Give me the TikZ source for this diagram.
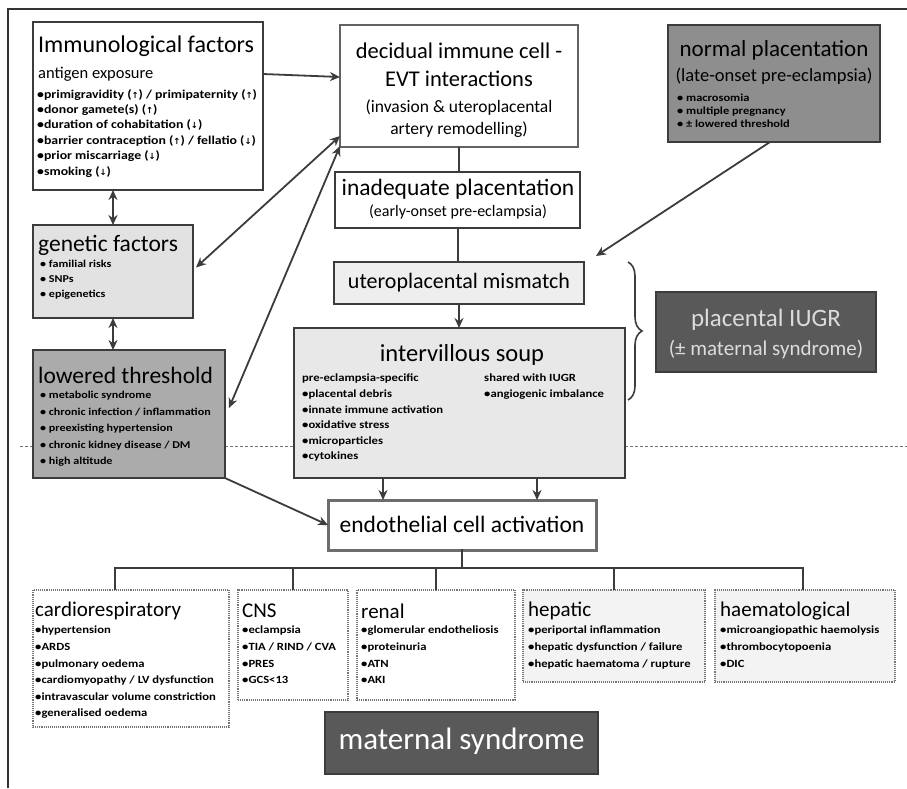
\documentclass[tikz,border=0pt]{standalone}
\usepackage{fontspec}
\setmainfont{Carlito}
\newfontfamily\symf{DejaVu Sans}
\newfontfamily\blf[FakeStretch=1.15]{Carlito}
\usetikzlibrary{arrows.meta,decorations.pathreplacing}
\definecolor{ln}{HTML}{3C3C3C}
\definecolor{normfill}{HTML}{8E8E8E}
\definecolor{genfill}{HTML}{E2E2E2}
\definecolor{lowfill}{HTML}{ABABAB}
\definecolor{soupfill}{HTML}{E8E8E8}
\definecolor{darkfill}{HTML}{595959}
\definecolor{botfill}{HTML}{F3F3F3}
\definecolor{lighttext}{HTML}{DCDCDC}
\newcommand{\uarr}{{\symf\fontsize{8.5}{9}\selectfont ↑}}
\newcommand{\darr}{{\symf\fontsize{8.5}{9}\selectfont ↓}}
\newcommand{\fs}[2]{\fontsize{#1}{#2}\selectfont}
\begin{document}
\begin{tikzpicture}[x=1pt,y=-1pt,
  box/.style={draw=ln, line width=1.1pt, inner sep=0pt, outer sep=0pt},
  dbox/.style={box, draw=ln!70, densely dotted, line width=1.1pt},
  ttl/.style={inner sep=0pt, anchor=west},
  ctr/.style={inner sep=0pt, anchor=center},
  lst/.style={inner sep=0pt, anchor=north west, align=left},
  con/.style={draw=ln, line width=1.8pt},
  arr/.style={con, -{Stealth[length=10pt,width=9pt]}},
  darrow/.style={con, {Stealth[length=10pt,width=9pt]}-{Stealth[length=10pt,width=9pt]}}
]
\useasboundingbox (0,0) rectangle (907,788);
\fill[white] (0,0) rectangle (907,788);
% page frame and fold
\draw[line width=1.2pt, black!80] (8,788) -- (8,9) -- (907,9);
\draw[line width=0.7pt, black!55, densely dashed] (20,446) -- (907,446);

% boxes
\node[box, fill=white, minimum width=230pt, minimum height=168pt] (imm) at (148,106) {};
\node[box, draw=ln!80, fill=white, minimum width=238pt, minimum height=122pt] (dec) at (459,86) {};
\node[box, fill=normfill, minimum width=212pt, minimum height=117pt] (norm) at (774,83.5) {};
\node[box, fill=white, minimum width=245pt, minimum height=56pt] (inad) at (457.5,200) {};
\node[box, fill=genfill!60, minimum width=250pt, minimum height=42pt] (utero) at (459,283) {};
\node[box, fill=soupfill, minimum width=331pt, minimum height=150pt] (soup) at (459.5,403) {};
\node[box, fill=darkfill, minimum width=220pt, minimum height=80pt] (iugr) at (766,332) {};
\node[box, fill=genfill, minimum width=160pt, minimum height=93pt] (gen) at (113,271.5) {};
\node[box, fill=lowfill, minimum width=192pt, minimum height=128pt] (low) at (129,414) {};
\node[box, draw=ln!75, line width=3pt, fill=white, minimum width=268pt, minimum height=50pt] (endo) at (462,525) {};
\node[dbox, fill=white, minimum width=196pt, minimum height=137pt] (cardio) at (131,658.5) {};
\node[dbox, fill=white, minimum width=110pt, minimum height=110pt] (cns) at (293,645) {};
\node[dbox, fill=white, minimum width=158pt, minimum height=110pt] (renal) at (436,645) {};
\node[dbox, fill=botfill, minimum width=182pt, minimum height=92pt] (hep) at (614,636) {};
\node[dbox, fill=botfill, minimum width=180pt, minimum height=92pt] (haem) at (805,636) {};
\node[box, fill=darkfill, minimum width=273pt, minimum height=62pt] (mat) at (461.5,743) {};

% texts: immunological
\node[ttl, font=\fs{24}{26}] (immt) at (38,46) {Immunological factors};
\node[ttl, font=\fs{16.5}{18}] (imma) at (38,74) {antigen exposure};
\node[lst, font=\blf\fs{12}{15.4}\bfseries] (imml) at (37,89) {•primigravidity (\uarr) / primipaternity (\uarr)\\
•donor gamete(s) (\uarr)\\
•duration of cohabitation (\darr)\\
•barrier contraception (\uarr) / fellatio (\darr)\\
•prior miscarriage (\darr)\\
•smoking (\darr)};

% decidual
\node[ctr, font=\fs{22.5}{24}] (dec1) at (459,51) {decidual immune cell -};
\node[ctr, font=\fs{22.5}{24}] (dec2) at (459,79) {EVT interactions};
\node[ctr, font=\fs{17.5}{19}] (dec3) at (459,108) {(invasion \& uteroplacental};
\node[ctr, font=\fs{17.5}{19}] (dec4) at (459,130) {artery remodelling)};

% normal placentation
\node[ctr, font=\fs{23}{25}] (norm1) at (774,50) {normal placentation};
\node[ctr, font=\fs{18.5}{20}] (norm2) at (774,76) {(late-onset pre-eclampsia)};
\node[lst, font=\blf\fs{10.8}{13}\bfseries] (norml) at (677,94) {• macrosomia\\• multiple pregnancy\\• ± lowered threshold};

% inadequate
\node[ctr, font=\fs{23.5}{25}] (inad1) at (458,189) {inadequate placentation};
\node[ctr, font=\fs{16}{18}] (inad2) at (458,212) {(early-onset pre-eclampsia)};

% utero
\node[ctr, font=\fs{22}{24}] (utero1) at (459,283) {uteroplacental mismatch};

% soup
\node[ctr, font=\fs{24.5}{26}] (soup1) at (462,355) {intervillous soup};
\node[lst, font=\blf\fs{11}{15.6}\bfseries] (soupl) at (302,374) {pre-eclampsia-specific\\
•placental debris\\•innate immune activation\\•oxidative stress\\•microparticles\\•cytokines};
\node[lst, font=\blf\fs{11}{15.6}\bfseries] (soupr) at (484,374) {shared with IUGR\\•angiogenic imbalance};

% IUGR
\node[ctr, font=\fs{25}{27}, text=lighttext] (iugr1) at (766,320) {placental IUGR};
\node[ctr, font=\fs{21}{23}, text=lighttext] (iugr2) at (766,350) {(± maternal syndrome)};

% genetic
\node[ttl, font=\fs{23.5}{25}] (gent) at (38,245) {genetic factors};
\node[lst, font=\blf\fs{10.5}{15}\bfseries] (genl) at (40,260) {• familial risks\\• SNPs\\• epigenetics};

% lowered
\node[ttl, font=\fs{23.5}{25}] (lowt) at (38,375) {lowered threshold};
\node[lst, font=\blf\fs{10.5}{16.5}\bfseries] (lowl) at (40,391) {• metabolic syndrome\\• chronic infection / inflammation\\• preexisting hypertension\\• chronic kidney disease / DM\\• high altitude};

% endothelial
\node[ctr, font=\fs{23.5}{25}] (endo1) at (462,524) {endothelial cell activation};

% bottom boxes
\node[ttl, font=\fs{21}{23}] (cardiot) at (35,611) {cardiorespiratory};
\node[lst, font=\blf\fs{11}{16.6}\bfseries] (cardiol) at (35,626) {•hypertension\\•ARDS\\•pulmonary oedema\\•cardiomyopathy / LV dysfunction\\•intravascular volume constriction\\•generalised oedema};
\node[ttl, font=\fs{21}{23}] (cnst) at (242,611) {CNS};
\node[lst, font=\blf\fs{11}{16.6}\bfseries] (cnsl) at (242,626) {•eclampsia\\•TIA / RIND / CVA\\•PRES\\•GCS<13};
\node[ttl, font=\fs{21}{23}] (renalt) at (361,611) {renal};
\node[lst, font=\blf\fs{11}{16.6}\bfseries] (renall) at (361,626) {•glomerular endotheliosis\\•proteinuria\\•ATN\\•AKI};
\node[ttl, font=\fs{21}{23}] (hept) at (528,611) {hepatic};
\node[lst, font=\blf\fs{11}{16.6}\bfseries] (hepl) at (528,626) {•periportal inflammation\\•hepatic dysfunction / failure\\•hepatic haematoma / rupture};
\node[ttl, font=\fs{21}{23}] (haemt) at (720,611) {haematological};
\node[lst, font=\blf\fs{11}{16.6}\bfseries] (haeml) at (720,626) {•microangiopathic haemolysis\\•thrombocytopoenia\\•DIC};

% maternal syndrome
\node[ctr, font=\fs{31}{33}, text=white] (mat1) at (461.5,741) {maternal syndrome};

% connectors
\draw[arr] ([yshift=32pt]imm.east) -- ([yshift=9pt]dec.west);
\draw[darrow] (gen.north |- imm.south) -- (gen.north);
\draw[darrow] (gen.south) -- (gen.south |- low.north);
\draw[darrow] ([yshift=-50pt]dec.west) -- ([xshift=3pt,yshift=4pt]gen.east);
\draw[darrow] ([yshift=-60pt]dec.west) -- ([xshift=4pt,yshift=6pt]low.east);
\draw[con] (dec.south) -- (dec.south |- inad.north);
\draw[con] ([xshift=0.5pt]inad.south) -- ([xshift=0.5pt]inad.south |- utero.north);
\draw[arr] (utero.south) -- (utero.south |- soup.north);
\draw[arr] ([xshift=-4pt]norm.south) -- ([xshift=12pt,yshift=6pt]utero.north east);
\draw[arr] ([xshift=-76.5pt]soup.south) -- ([xshift=-76.5pt]soup.south |- endo.north);
\draw[arr] ([xshift=77.5pt]soup.south) -- ([xshift=77.5pt]soup.south |- endo.north);
\draw[arr] (low.south east) -- (endo.west);

% tree
\coordinate (bus) at (458,568);
\draw[con, line cap=rect] (endo.south) -- (endo.south |- bus);
\draw[con] ([xshift=-16pt]cardio.north) -- ([xshift=-16pt]cardio.north |- bus) -- ([xshift=-2pt]haem.north |- bus) -- ([xshift=-2pt]haem.north);
\draw[con] (cns.north) -- (cns.north |- bus);
\draw[con] (renal.north) -- (renal.north |- bus);
\draw[con] (hep.north) -- (hep.north |- bus);

% brace
\draw[con, line width=1.6pt, decorate, decoration={brace, amplitude=14pt}] (628,262) -- (628,400);
\end{tikzpicture}
\end{document}
